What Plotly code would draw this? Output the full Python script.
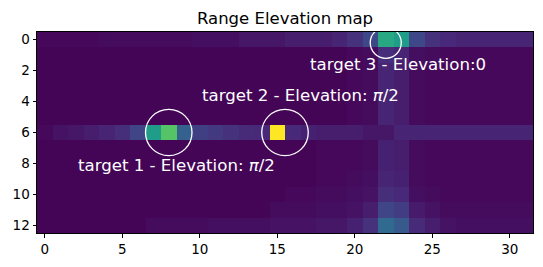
import plotly.graph_objects as go

# Range bins (x) and elevation bins (y)
x_bins = list(range(32))
y_bins = list(range(13))

bg = 0.01
row_0 = [0.02, 0.02, 0.02, 0.02, 0.03, 0.03, 0.03, 0.03, 0.03, 0.03, 0.04, 0.04, 0.04, 0.06, 0.06, 0.06,
         0.08, 0.08, 0.08, 0.10, 0.14, 0.22, 0.60, 0.55, 0.22, 0.14, 0.11, 0.10, 0.10, 0.10, 0.10, 0.10]
row_1 = [bg] * 20 + [0.02, 0.03, 0.13, 0.10, 0.04, 0.03, 0.02, 0.02, 0.02, 0.02, 0.02, 0.02]
row_2 = [bg] * 20 + [0.02, 0.03, 0.10, 0.08, 0.03, 0.02, 0.02, 0.02, 0.02, 0.02, 0.02, 0.02]
row_3 = [bg] * 20 + [0.02, 0.03, 0.10, 0.08, 0.03, 0.02, 0.02, 0.02, 0.02, 0.02, 0.02, 0.02]
row_4 = [bg] * 20 + [0.02, 0.03, 0.10, 0.08, 0.03, 0.02, 0.02, 0.02, 0.02, 0.02, 0.02, 0.02]
row_5 = [bg] * 20 + [0.02, 0.03, 0.10, 0.08, 0.03, 0.02, 0.02, 0.02, 0.02, 0.02, 0.02, 0.02]
row_6 = [0.02, 0.05, 0.06, 0.08, 0.10, 0.13, 0.21, 0.55, 0.73, 0.31, 0.19, 0.17, 0.14, 0.12, 0.11, 1.00,
         0.11, 0.09, 0.08, 0.08, 0.08, 0.06, 0.06, 0.10, 0.10, 0.10, 0.10, 0.10, 0.10, 0.10, 0.10, 0.10]
row_7 = [bg] * 18 + [0.02, 0.02, 0.02, 0.03, 0.09, 0.08, 0.03, 0.02, 0.02, 0.02, 0.02, 0.02, 0.02, 0.02]
row_8 = [bg] * 18 + [0.02, 0.02, 0.02, 0.03, 0.09, 0.08, 0.03, 0.02, 0.02, 0.02, 0.02, 0.02, 0.02, 0.02]
row_9 = [bg] * 18 + [0.02, 0.02, 0.03, 0.04, 0.10, 0.09, 0.03, 0.02, 0.02, 0.02, 0.02, 0.02, 0.02, 0.02]
row_10 = [bg] * 16 + [0.02, 0.02, 0.03, 0.03, 0.04, 0.05, 0.13, 0.11, 0.04, 0.03, 0.02, 0.02, 0.02, 0.02, 0.02, 0.02]
row_11 = [bg] * 15 + [0.03, 0.03, 0.03, 0.04, 0.04, 0.05, 0.08, 0.21, 0.18, 0.07, 0.05, 0.03, 0.03, 0.03, 0.03, 0.03, 0.03]
row_12 = [bg] * 7 + [0.03, 0.03, 0.03, 0.03, 0.04, 0.04, 0.04, 0.04, 0.05, 0.05, 0.05, 0.06, 0.06, 0.09, 0.14,
                     0.34, 0.28, 0.12, 0.08, 0.05, 0.04, 0.04, 0.04, 0.04, 0.04]
z_rows = [row_0, row_1, row_2, row_3, row_4, row_5, row_6, row_7, row_8, row_9, row_10, row_11, row_12]

# Targets: circle centres (range bin, elevation bin), radii, labels
target_x = [8.0, 15.5, 22.0]
target_y = [6.0, 6.0, 0.2]
target_r = [1.5, 1.5, 1.0]
label_x = [2.0, 10.0, 17.0]
label_y = [8.15, 3.62, 1.63]
labels = ["target 1 - Elevation: <i>π</i>/2", "target 2 - Elevation: <i>π</i>/2", "target 3 - Elevation:0"]

x_ticks = [0, 5, 10, 15, 20, 25, 30]
y_ticks = [0, 2, 4, 6, 8, 10, 12]

font_family = "DejaVu Sans"

fig = go.Figure(go.Heatmap(
    z=z_rows, x=x_bins, y=y_bins,
    colorscale="Viridis", zmin=0, zmax=1, showscale=False,
))

for cx, cy, r in zip(target_x, target_y, target_r):
    fig.add_shape(type="circle", xref="x", yref="y",
                  x0=cx - r, x1=cx + r, y0=cy - r, y1=cy + r,
                  line=dict(color="white", width=1.3))

for lx, ly, t in zip(label_x, label_y, labels):
    fig.add_annotation(x=lx, y=ly, xref="x", yref="y", text=t, showarrow=False,
                       xanchor="left", yanchor="middle",
                       font=dict(family=font_family, size=16.6, color="white"))

axis_common = dict(showline=True, linecolor="black", linewidth=1, mirror=True,
                   ticks="outside", ticklen=3.5, tickwidth=0.8, tickcolor="black",
                   showgrid=False, zeroline=False,
                   tickfont=dict(family=font_family, size=13.5, color="black"))

fig.update_xaxes(range=[-0.5, 31.5], tickvals=x_ticks, **axis_common)
fig.update_yaxes(range=[12.5, -0.5], tickvals=y_ticks, **axis_common)

fig.update_layout(
    width=543, height=267,
    margin=dict(l=37, r=10, t=32, b=34),
    paper_bgcolor="white", plot_bgcolor="white",
    title=dict(text="Range Elevation map", x=(37 + 533) / 2 / 543, xanchor="center",
               y=1 - 18 / 267, yanchor="middle",
               font=dict(family=font_family, size=16.5, color="black")),
)

fig.write_html("out.html")
